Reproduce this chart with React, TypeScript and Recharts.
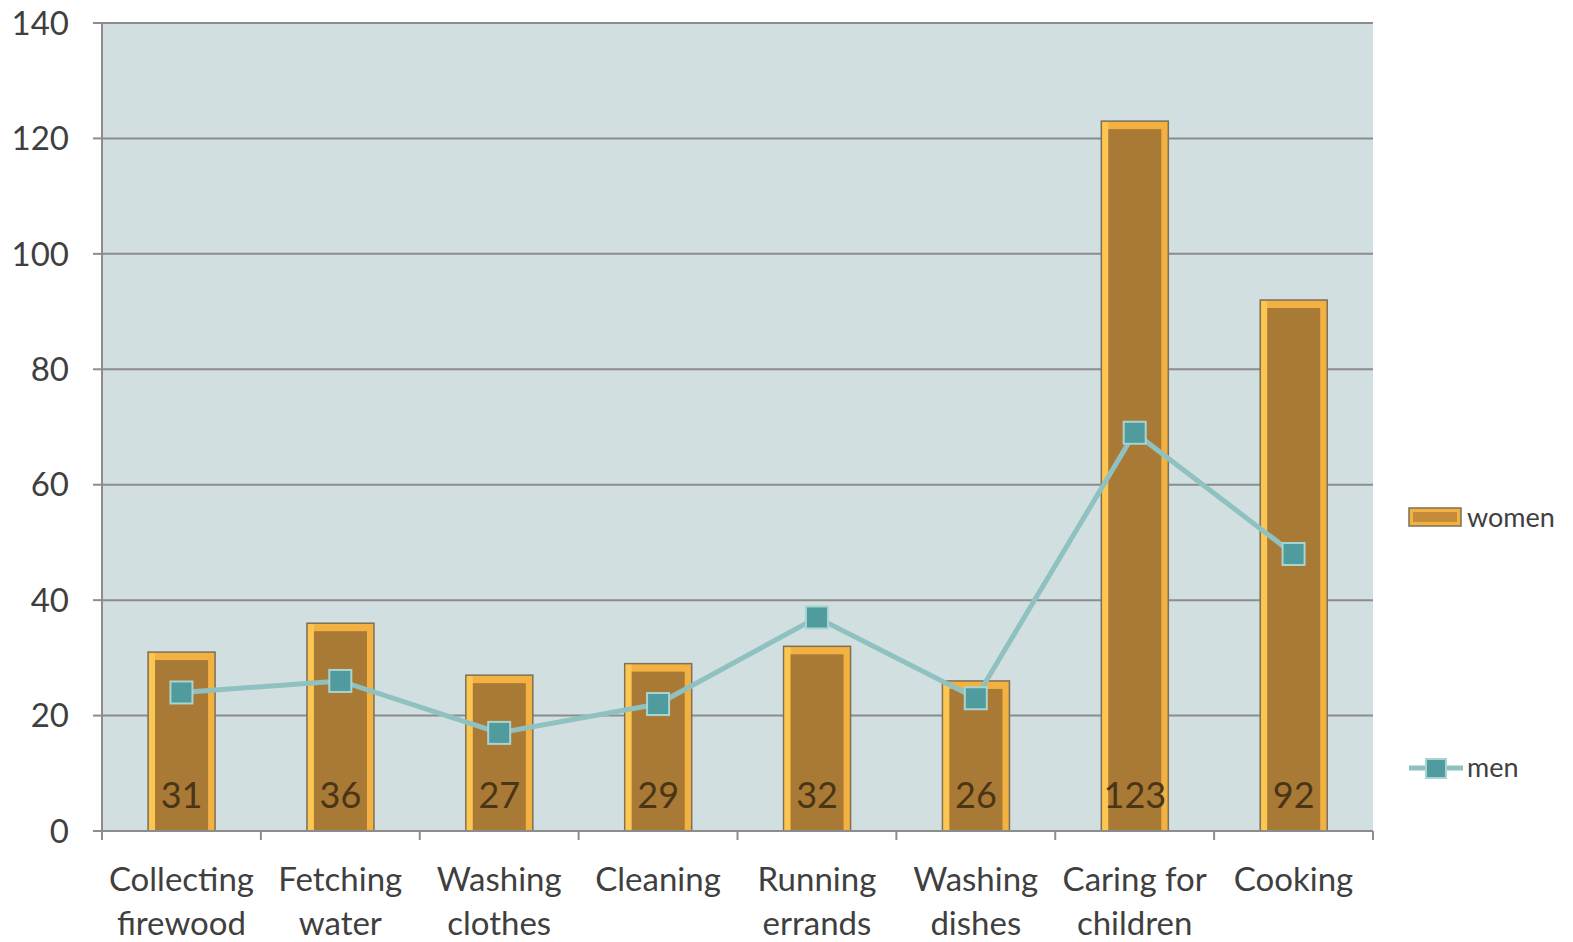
import { Bar, CartesianGrid, ComposedChart, LabelList, Line, XAxis, YAxis } from "recharts";

const categories = [
  "Collecting\nfirewood",
  "Fetching\nwater",
  "Washing\nclothes",
  "Cleaning",
  "Running\nerrands",
  "Washing\ndishes",
  "Caring for\nchildren",
  "Cooking",
];
const women = [31, 36, 27, 29, 32, 26, 123, 92];
const men = [24, 26, 17, 22, 37, 23, 69, 48];
const yTicks = [0, 20, 40, 60, 80, 100, 120, 140];

const W = 1573;
const H = 942;
const Y_AXIS_W = 100;
const X_AXIS_H = 110;
const M = { top: 23, right: 200, bottom: 111 - X_AXIS_H, left: 102 - Y_AXIS_W };
const BAND = (W - 102 - M.right) / categories.length;
const FONT = "Lato, 'Open Sans', sans-serif";
const TEXT = "#3f3f3f";
const AXIS = "#8c8c8c";

const data = categories.map((c, i) => ({ cat: c, women: women[i], men: men[i] }));

function BarShape(props: any) {
  const { x, y, width, height } = props;
  if (!height || height <= 0) return null;
  return (
    <g>
      <rect x={x} y={y} width={width} height={height} fill="#f2b140" stroke="#7d6f58" strokeWidth={1.5} />
      <rect x={x + 1} y={y + 1} width={6} height={height - 2} fill="#fcc653" />
      <rect x={x + 7} y={y + 8} width={width - 14} height={height - 8} fill="#a97a35" />
    </g>
  );
}

function Marker(props: any) {
  const { cx, cy } = props;
  if (cx == null || cy == null) return null;
  return <rect x={cx - 11} y={cy - 11} width={22} height={22} fill="#4f9b9d" stroke="#a9d4d2" strokeWidth={2} />;
}

function ValueLabel(props: any) {
  const { x, y, width, height, value } = props;
  return (
    <text
      x={x + width / 2}
      y={y + height - 23}
      textAnchor="middle"
      fontFamily={FONT}
      fontSize={36}
      fill="#4a3516"
    >
      {value}
    </text>
  );
}

function XTick(props: any) {
  const { x, y, payload, index } = props;
  const lines = String(payload.value).split("\n");
  const axisY = y - 8;
  return (
    <g>
      <line x1={x - BAND / 2} x2={x - BAND / 2} y1={axisY} y2={axisY + 9} stroke={AXIS} strokeWidth={2} />
      {index === categories.length - 1 && (
        <line x1={x + BAND / 2} x2={x + BAND / 2} y1={axisY} y2={axisY + 9} stroke={AXIS} strokeWidth={2} />
      )}
      <text textAnchor="middle" fontFamily={FONT} fontSize={33} fill={TEXT}>
        {lines.map((l, i) => (
          <tspan key={i} x={x} y={axisY + 60 + i * 44}>
            {l}
          </tspan>
        ))}
      </text>
    </g>
  );
}

function LegendBox() {
  return (
    <svg
      width={180}
      height={300}
      style={{ position: "absolute", left: 1393, top: 498, overflow: "visible" }}
    >
      <rect x={16} y={10} width={52} height={18} fill="#f2b140" stroke="#7d6f58" strokeWidth={1.5} />
      <rect x={20} y={14} width={44} height={10} fill="#c48c3a" />
      <text x={74} y={29} fontFamily={FONT} fontSize={27} fill={TEXT}>
        women
      </text>
      <line x1={16} x2={70} y1={270} y2={270} stroke="#8fc1c0" strokeWidth={5} />
      <rect x={33} y={261} width={20} height={19} fill="#4f9b9d" stroke="#a9d4d2" strokeWidth={2} />
      <text x={74} y={279} fontFamily={FONT} fontSize={27} fill={TEXT}>
        men
      </text>
    </svg>
  );
}

export default function App() {
  return (
    <div style={{ position: "absolute", left: 0, top: 0, width: W, height: H, background: "#fff" }}>
      <ComposedChart width={W} height={H} data={data} margin={M} barCategoryGap="29%">
        <CartesianGrid vertical={false} fill="#d2dfe0" stroke={AXIS} strokeWidth={2} />
        <XAxis
          dataKey="cat"
          interval={0}
          height={X_AXIS_H}
          tickLine={false}
          axisLine={{ stroke: AXIS, strokeWidth: 2 }}
          tick={<XTick />}
        />
        <YAxis
          domain={[0, 140]}
          ticks={yTicks}
          interval={0}
          width={Y_AXIS_W}
          tickSize={9}
          tickMargin={24}
          axisLine={{ stroke: AXIS, strokeWidth: 2 }}
          tickLine={{ stroke: AXIS, strokeWidth: 2 }}
          tick={{ fontFamily: FONT, fontSize: 33, fill: TEXT }}
        />
        <Bar dataKey="women" shape={<BarShape />} isAnimationActive={false}>
          <LabelList dataKey="women" content={<ValueLabel />} />
        </Bar>
        <Line
          dataKey="men"
          stroke="#8fc1c0"
          strokeWidth={5}
          dot={<Marker />}
          activeDot={false}
          isAnimationActive={false}
        />
      </ComposedChart>
      <LegendBox />
    </div>
  );
}
